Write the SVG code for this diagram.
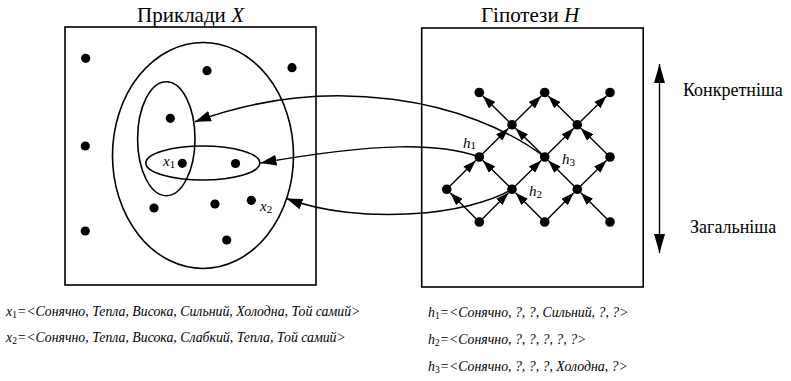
<svg xmlns="http://www.w3.org/2000/svg" width="791" height="381" viewBox="0 0 791 381">
<style>
  .box{fill:none;stroke:#000;stroke-width:1.6}
  .ell{fill:none;stroke:#000;stroke-width:1.6}
  .dot{fill:#000}
  .edge{fill:none;stroke:#000;stroke-width:1.4}
  .curve{fill:none;stroke:#000;stroke-width:1.5}
  .title{font-family:"Liberation Serif",serif;font-size:21px;fill:#000}
  .side{font-family:"Liberation Serif",serif;font-size:18px;fill:#000}
  .lab{font-family:"Liberation Serif",serif;font-size:15px;font-style:italic;fill:#000}
  .sub{font-style:normal;font-size:11px}
  .desc{font-family:"Liberation Serif",serif;font-size:13.8px;font-style:italic;fill:#000}
  .dsub{font-style:normal;font-size:9.5px}
</style>
<defs>
  <marker id="ah" markerUnits="userSpaceOnUse" markerWidth="13" markerHeight="9" viewBox="0 0 13 9" refX="13" refY="4.5" orient="auto">
    <path d="M0,0 L13,4.5 L0,9 z" fill="#000"/>
  </marker>
  <marker id="ahc" markerUnits="userSpaceOnUse" markerWidth="16" markerHeight="11" viewBox="0 0 16 11" refX="16" refY="5.5" orient="auto">
    <path d="M0,0 L16,5.5 L0,11 z" fill="#000"/>
  </marker>
  <marker id="ahv" markerUnits="userSpaceOnUse" markerWidth="19" markerHeight="11" viewBox="0 0 19 11" refX="19" refY="5.5" orient="auto-start-reverse">
    <path d="M0,0 L19,5.5 L0,11 z" fill="#000"/>
  </marker>
</defs>

<g id="examples">
  <text class="title" x="190.5" y="22" text-anchor="middle">Приклади <tspan font-style="italic">X</tspan></text>
  <rect class="box" x="65" y="27" width="251" height="258"/>
  <ellipse class="ell" cx="203" cy="155.5" rx="90.5" ry="113"/>
  <ellipse class="ell" cx="166.3" cy="138.7" rx="28.7" ry="57"/>
  <ellipse class="ell" cx="202.8" cy="163" rx="57" ry="17"/>
  <g id="example-points">
    <circle class="dot" cx="85.7" cy="58.3" r="4.6"/>
    <circle class="dot" cx="207" cy="70.7" r="4.6"/>
    <circle class="dot" cx="292" cy="67.7" r="4.6"/>
    <circle class="dot" cx="170.3" cy="118.3" r="4.6"/>
    <circle class="dot" cx="85.3" cy="146" r="4.6"/>
    <circle class="dot" cx="182.3" cy="163.3" r="4.6"/>
    <circle class="dot" cx="235.5" cy="163.5" r="4.6"/>
    <circle class="dot" cx="154" cy="208" r="4.6"/>
    <circle class="dot" cx="215" cy="204" r="4.6"/>
    <circle class="dot" cx="251.3" cy="200.3" r="4.6"/>
    <circle class="dot" cx="85.3" cy="231" r="4.6"/>
    <circle class="dot" cx="226.7" cy="240" r="4.6"/>
  </g>
  <text class="lab" x="163" y="165.5">x<tspan class="sub" dy="2">1</tspan></text>
  <text class="lab" x="260" y="210.5">x<tspan class="sub" dy="2">2</tspan></text>
</g>

<g id="hypotheses">
  <text class="title" x="530" y="22" text-anchor="middle">Гіпотези <tspan font-style="italic">H</tspan></text>
  <rect class="box" x="421.7" y="28" width="221.5" height="259"/>
  <text class="lab" x="463" y="147.5">h<tspan class="sub" dy="1.5">1</tspan></text>
  <text class="lab" x="562" y="163.5">h<tspan class="sub" dy="2">3</tspan></text>
  <text class="lab" x="529" y="196">h<tspan class="sub" dy="2">2</tspan></text>
</g>

<g id="connectors">
  <g id="lattice-edges">
    <line class="edge" x1="479.3" y1="222" x2="450.2" y2="192.8" marker-end="url(#ah)"/>
    <line class="edge" x1="479.3" y1="222" x2="508.5" y2="192.8" marker-end="url(#ah)"/>
    <line class="edge" x1="544.7" y1="222" x2="515.5" y2="192.8" marker-end="url(#ah)"/>
    <line class="edge" x1="544.7" y1="222" x2="573.8" y2="192.8" marker-end="url(#ah)"/>
    <line class="edge" x1="610" y1="222" x2="580.8" y2="192.8" marker-end="url(#ah)"/>
    <line class="edge" x1="446.7" y1="189.3" x2="475.8" y2="160.5" marker-end="url(#ah)"/>
    <line class="edge" x1="512" y1="189.3" x2="482.8" y2="160.5" marker-end="url(#ah)"/>
    <line class="edge" x1="512" y1="189.3" x2="541.2" y2="160.5" marker-end="url(#ah)"/>
    <line class="edge" x1="577.3" y1="189.3" x2="548.2" y2="160.5" marker-end="url(#ah)"/>
    <line class="edge" x1="577.3" y1="189.3" x2="606.5" y2="160.5" marker-end="url(#ah)"/>
    <line class="edge" x1="479.3" y1="157" x2="508.5" y2="128.3" marker-end="url(#ah)"/>
    <line class="edge" x1="544.7" y1="157" x2="515.5" y2="128.3" marker-end="url(#ah)"/>
    <line class="edge" x1="544.7" y1="157" x2="573.8" y2="128.3" marker-end="url(#ah)"/>
    <line class="edge" x1="610" y1="157" x2="580.8" y2="128.3" marker-end="url(#ah)"/>
    <line class="edge" x1="512" y1="124.8" x2="482.8" y2="96" marker-end="url(#ah)"/>
    <line class="edge" x1="512" y1="124.8" x2="541.2" y2="96" marker-end="url(#ah)"/>
    <line class="edge" x1="577.3" y1="124.8" x2="548.2" y2="96" marker-end="url(#ah)"/>
    <line class="edge" x1="577.3" y1="124.8" x2="606.5" y2="96" marker-end="url(#ah)"/>
  </g>
  <g id="mapping-curves">
    <path class="curve" d="M544.7,157 C470,100 330,72 195,121.7" marker-end="url(#ahc)"/>
    <path class="curve" d="M479.3,157 C440,143 380,142 260.5,163" marker-end="url(#ahc)"/>
    <path class="curve" d="M512,189.3 C470,215 360,226 286.5,198.5" marker-end="url(#ahc)"/>
  </g>
  <line id="generality-axis" class="edge" x1="659.5" y1="64" x2="659.5" y2="253" stroke-width="1.6" marker-start="url(#ahv)" marker-end="url(#ahv)"/>
</g>

<g id="lattice-nodes">
  <circle class="dot" cx="479.3" cy="92.5" r="4.8"/>
  <circle class="dot" cx="544.7" cy="92.5" r="4.8"/>
  <circle class="dot" cx="610" cy="92.5" r="4.8"/>
  <circle class="dot" cx="512" cy="124.8" r="4.8"/>
  <circle class="dot" cx="577.3" cy="124.8" r="4.8"/>
  <circle class="dot" cx="479.3" cy="157" r="4.8"/>
  <circle class="dot" cx="544.7" cy="157" r="4.8"/>
  <circle class="dot" cx="610" cy="157" r="4.8"/>
  <circle class="dot" cx="446.7" cy="189.3" r="4.8"/>
  <circle class="dot" cx="512" cy="189.3" r="4.8"/>
  <circle class="dot" cx="577.3" cy="189.3" r="4.8"/>
  <circle class="dot" cx="479.3" cy="222" r="4.8"/>
  <circle class="dot" cx="544.7" cy="222" r="4.8"/>
  <circle class="dot" cx="610" cy="222" r="4.8"/>
</g>

<g id="axis-labels">
  <text class="side" x="683" y="96">Конкретніша</text>
  <text class="side" x="690" y="233">Загальніша</text>
</g>

<g id="descriptions">
  <text class="desc" x="6" y="316">x<tspan class="dsub" dy="1.5">1</tspan><tspan dy="-1.5">=&lt;Сонячно, Тепла, Висока, Сильний, Холодна, Той самий&gt;</tspan></text>
  <text class="desc" x="6" y="342">x<tspan class="dsub" dy="1.5">2</tspan><tspan dy="-1.5">=&lt;Сонячно, Тепла, Висока, Слабкий, Тепла, Той самий&gt;</tspan></text>
  <text class="desc" x="428" y="317">h<tspan class="dsub" dy="1.5">1</tspan><tspan dy="-1.5">=&lt;Сонячно, ?, ?, Сильний, ?, ?&gt;</tspan></text>
  <text class="desc" x="428" y="344">h<tspan class="dsub" dy="1.5">2</tspan><tspan dy="-1.5">=&lt;Сонячно, ?, ?, ?, ?, ?&gt;</tspan></text>
  <text class="desc" x="428" y="371">h<tspan class="dsub" dy="1.5">3</tspan><tspan dy="-1.5">=&lt;Сонячно, ?, ?, ?, Холодна, ?&gt;</tspan></text>
</g>
</svg>
